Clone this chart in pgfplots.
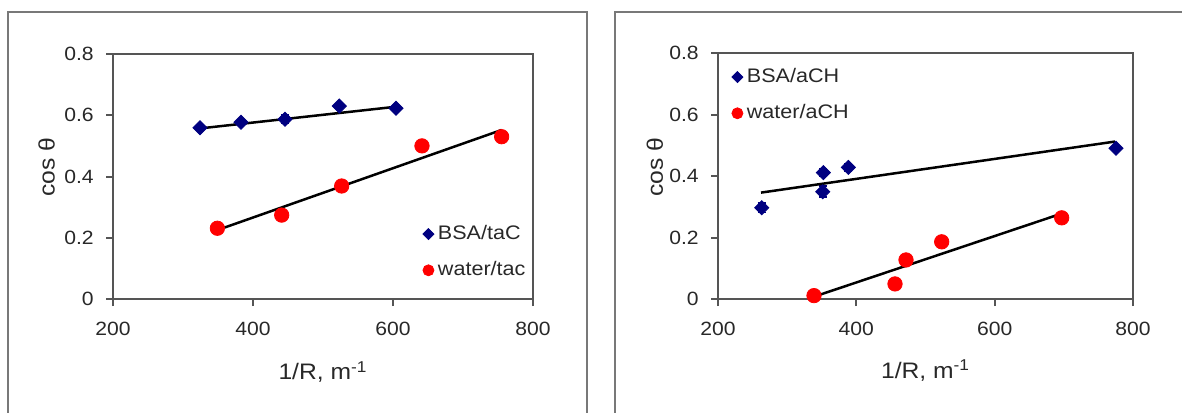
\documentclass[border=0pt]{standalone}
\usepackage{fontspec}
\setmainfont{Liberation Sans}[FakeStretch=1.1]
\usepackage{pgfplots}
\pgfplotsset{compat=1.18}

\definecolor{markblue}{RGB}{0,0,128}
\definecolor{markred}{RGB}{255,0,0}
\definecolor{axisgray}{RGB}{85,85,85}
\definecolor{framegray}{RGB}{120,120,120}
\definecolor{textgray}{RGB}{40,40,40}

\pgfplotsset{
  panel/.style={
    scale only axis,
    anchor=south west,
    xmin=200, xmax=800, ymin=0, ymax=0.8,
    xtick={200,400,600,800},
    ytick={0,0.2,0.4,0.6,0.8},
    tick pos=left,
    tick align=outside,
    major tick length=3.5pt,
    axis line style={axisgray, line width=1pt},
    tick style={axisgray, line width=1pt},
    /pgf/number format/assume math mode=true,
    tick label style={font=\fontsize{9.6}{11}\selectfont, text=textgray},
    yticklabel style={xshift=-2.6pt},
    xticklabel style={yshift=-4.6pt},
    label style={font=\fontsize{11.2}{13}\selectfont, text=textgray},
    xlabel={1/R, m\textsuperscript{-1}},
    ylabel={cos θ},
    legend style={draw=none, fill=none, inner sep=0pt,
      font=\fontsize{9.8}{11}\selectfont, text=textgray, row sep=5.5pt,
      anchor=north west},
    legend cell align=left,
    legend image code/.code={\draw[##1] plot coordinates {(0pt,0pt)};},
  },
  bsa/.style={only marks, mark=square*, mark size=2.5pt,
    mark options={rotate=45, markblue, fill=markblue},
    legend image post style={mark size=1.95pt},
    error bars/.cd, y dir=both, y explicit,
    error bar style={markblue, line width=0.8pt},
    error mark options={rotate=90, markblue, mark size=2pt, line width=0.8pt}},
  wat/.style={only marks, mark=*, mark size=3.6pt,
    mark options={markred, fill=markred},
    legend image post style={mark size=2.75pt},
    error bars/.cd, y dir=both, y explicit,
    error bar style={markred, line width=0.8pt},
    error mark options={rotate=90, markred, mark size=2pt, line width=0.8pt}},
  fit/.style={black, line width=1.25pt, forget plot},
}

\begin{document}
\begin{tikzpicture}
\useasboundingbox (0pt,0pt) rectangle (591pt,-206pt);
\clip (0pt,0pt) rectangle (591pt,-206pt);

% panel frames
\draw[framegray, line width=0.9pt] (4pt,-260pt) -- (4pt,-5.9pt) -- (293.5pt,-5.9pt) -- (293.5pt,-260pt);
\draw[framegray, line width=0.9pt] (307.5pt,-260pt) -- (307.5pt,-5.9pt) -- (620pt,-5.9pt);

% tetrahedral amorphous carbon
\begin{axis}[panel, at={(56.5pt,-149.5pt)}, width=210pt, height=122.5pt,
  xlabel style={at={(axis description cs:0.5,-0.298)}, anchor=center},
  ylabel style={at={(axis description cs:-0.158,0.539)}, anchor=center},
  legend style={at={(axis description cs:0.737,0.318)}}]
\addplot[bsa] coordinates {
  (324.3,0.559) +- (0,0)
  (382.9,0.577) +- (0,0)
  (445.7,0.587) +- (0,0.014)
  (523.3,0.630) +- (0,0)
  (604.3,0.623) +- (0,0)
};
\addlegendentry{BSA/taC}
\addplot[wat] coordinates {
  (349.1,0.231) +- (0,0)
  (441.0,0.274) +- (0,0.012)
  (526.7,0.369) +- (0,0.015)
  (641.4,0.500) +- (0,0)
  (755.2,0.530) +- (0,0)
};
\addlegendentry{water/tac}
\addplot[fit] coordinates {(324.3,0.557) (604.8,0.628)};
\addplot[fit] coordinates {(349.0,0.225) (755.2,0.552)};
\end{axis}

% amorphous hydrogenated carbon
\begin{axis}[panel, at={(359pt,-149.5pt)}, width=207.5pt, height=123pt,
  xlabel style={at={(axis description cs:0.5,-0.289)}, anchor=center},
  ylabel style={at={(axis description cs:-0.152,0.537)}, anchor=center},
  legend style={at={(axis description cs:0.0325,0.955)}}]
\addplot[bsa] coordinates {
  (263.2,0.297) +- (0,0.016)
  (351.4,0.349) +- (0,0.018)
  (352.3,0.411) +- (0,0.012)
  (388.4,0.428) +- (0,0.012)
  (775.4,0.490) +- (0,0)
};
\addlegendentry{BSA/aCH}
\addplot[wat] coordinates {
  (338.8,0.011) +- (0,0)
  (455.9,0.049) +- (0,0)
  (471.8,0.127) +- (0,0.012)
  (523.4,0.186) +- (0,0)
  (696.9,0.264) +- (0,0)
};
\addlegendentry{water/aCH}
\addplot[fit] coordinates {(262.2,0.346) (774.0,0.512)};
\addplot[fit] coordinates {(338.8,0.0076) (694.4,0.276)};
\end{axis}
\end{tikzpicture}
\end{document}
